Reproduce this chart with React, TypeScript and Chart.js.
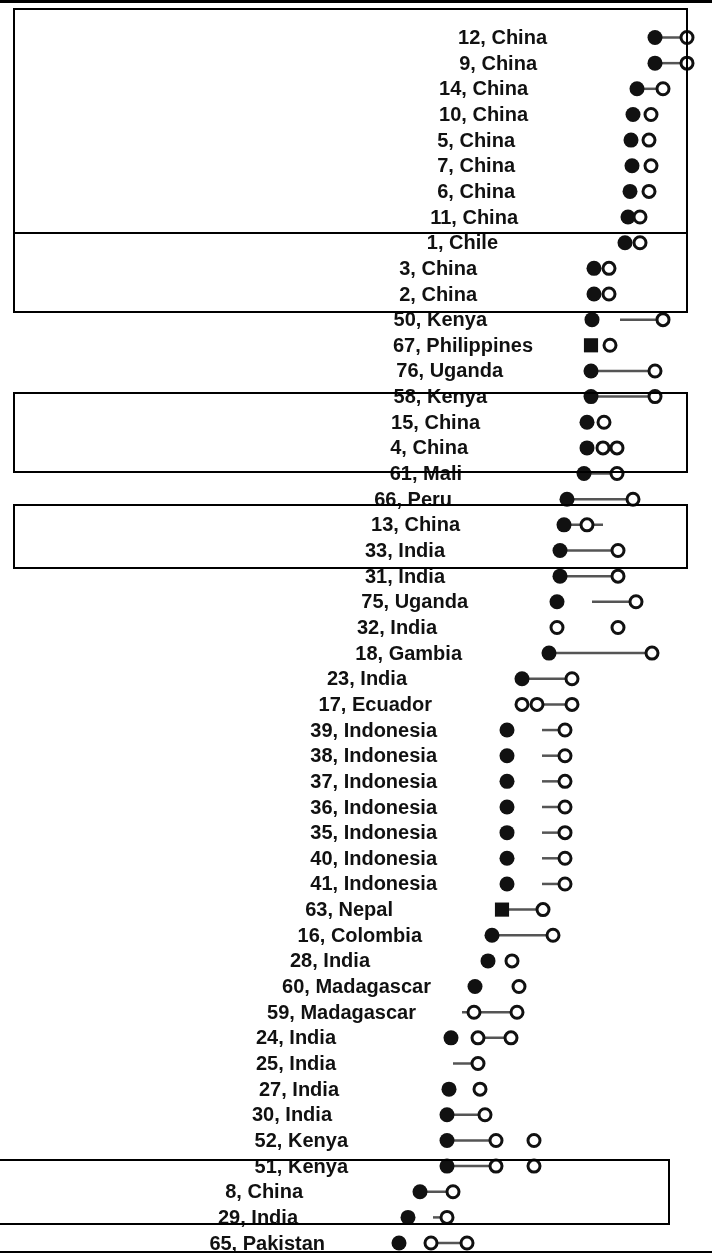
import React, { useEffect, useRef } from "react";
import { Chart, registerables } from "chart.js";

Chart.register(...registerables);

// Study rows, top to bottom
const rowLabels: string[] = [
  "12, China", "9, China", "14, China", "10, China", "5, China", "7, China",
  "6, China", "11, China", "1, Chile", "3, China", "2, China", "50, Kenya",
  "67, Philippines", "76, Uganda", "58, Kenya", "15, China", "4, China",
  "61, Mali", "66, Peru", "13, China", "33, India", "31, India", "75, Uganda",
  "32, India", "18, Gambia", "23, India", "17, Ecuador", "39, Indonesia",
  "38, Indonesia", "37, Indonesia", "36, Indonesia", "35, Indonesia",
  "40, Indonesia", "41, Indonesia", "63, Nepal", "16, Colombia", "28, India",
  "60, Madagascar", "59, Madagascar", "24, India", "25, India", "27, India",
  "30, India", "52, Kenya", "51, Kenya", "8, China", "29, India", "65, Pakistan",
];

// Where each row's label ends (value units)
const labelEnd: number[] = [
  547, 537, 528, 528, 515, 515, 515, 518, 498, 477, 477, 487, 533, 503, 487,
  480, 468, 462, 452, 460, 445, 445, 468, 437, 462, 407, 432, 437, 437, 437,
  437, 437, 437, 437, 393, 422, 370, 431, 416, 336, 336, 339, 332, 348, 348,
  303, 298, 325,
];

// Baseline value (filled marker); null where none is shown
const baseline: (number | null)[] = [
  655, 655, 637, 633, 631, 632, 630, 628, 625, 594, 594, 592, 591, 591, 591,
  587, 587, 584, 567, 564, 560, 560, 557, null, 549, 522, null, 507, 507, 507,
  507, 507, 507, 507, 502, 492, 488, 475, null, 451, null, 449, 447, 447, 447,
  420, 408, 399,
];

// Rows whose baseline marker is a square
const squareRows: number[] = [12, 34];

// Follow-up values (open markers)
const followUps: number[][] = [
  [687], [687], [663], [651], [649], [651], [649], [640], [640], [609], [609],
  [663], [610], [655], [655], [604], [603, 617], [617], [633], [587], [618],
  [618], [636], [557, 618], [652], [572], [522, 537, 572], [565], [565], [565],
  [565], [565], [565], [565], [543], [553], [512], [519], [474, 517],
  [478, 511], [478], [480], [485], [496, 534], [496, 534], [453], [447],
  [431, 467],
];

// Connecting segments [from, to]; null where the markers are not joined
const links: ([number, number] | null)[] = [
  [655, 687], [655, 687], [637, 663], null, null, null, null, null, null, null,
  null, [620, 663], null, [591, 655], [591, 655], null, null, [584, 617],
  [567, 633], [564, 603], [560, 618], [560, 618], [592, 636], null, [549, 652],
  [522, 572], [537, 572], [542, 565], [542, 565], [542, 565], [542, 565],
  [542, 565], [542, 565], [542, 565], [502, 543], [492, 553], null, null,
  [462, 517], [478, 511], [453, 478], null, [447, 485], [447, 496], [447, 496],
  [420, 453], [433, 447], [431, 467],
];

// Grouping frames: [fromValue, toValue, fromRow, toRow]
const frames: [number, number, number, number][] = [
  [14, 687, -1.11, 7.62],
  [14, 687, 7.62, 10.7],
  [14, 687, 13.86, 16.94],
  [14, 687, 18.23, 20.68],
  [-6, 669, 43.76, 46.26],
];

const X_MIN = 0;
const X_MAX = 712;
const ROW_TOP = -1.462;
const ROW_BOTTOM = 47.544;

const INK = "#111111";
const LINK = "#555555";

export default function App() {
  const canvasRef = useRef<HTMLCanvasElement>(null);

  useEffect(() => {
    document.body.style.margin = "0";
    const canvas = canvasRef.current;
    if (!canvas) return;

    const linkSets = links
      .map((seg, r) => (seg ? { seg, r } : null))
      .filter((v): v is { seg: [number, number]; r: number } => v !== null)
      .map(({ seg, r }) => ({
        label: "link " + r,
        data: [
          { x: seg[0], y: r },
          { x: seg[1], y: r },
        ],
        showLine: true,
        borderColor: LINK,
        borderWidth: 2.5,
        pointRadius: 0,
        order: 3,
      }));

    const basePoints = baseline
      .map((v, r) => (v === null ? null : { x: v, y: r }))
      .filter((p): p is { x: number; y: number } => p !== null);

    const followPoints: { x: number; y: number }[] = [];
    followUps.forEach((vals, r) => vals.forEach((v) => followPoints.push({ x: v, y: r })));

    const labelsPlugin = {
      id: "rowLabels",
      afterDatasetsDraw(chart: any) {
        const { ctx, scales } = chart;
        ctx.save();
        ctx.font = 'bold 20px "Liberation Sans", Arial, sans-serif';
        ctx.fillStyle = INK;
        ctx.textAlign = "right";
        ctx.textBaseline = "middle";
        rowLabels.forEach((txt, r) => {
          ctx.fillText(txt, scales.x.getPixelForValue(labelEnd[r]), scales.y.getPixelForValue(r) + 1);
        });
        ctx.restore();
      },
    };

    const framesPlugin = {
      id: "frames",
      afterDraw(chart: any) {
        const { ctx, scales, width, height } = chart;
        ctx.save();
        ctx.strokeStyle = "#000";
        ctx.lineWidth = 2;
        frames.forEach(([x0, x1, r0, r1]) => {
          const px0 = Math.round(scales.x.getPixelForValue(x0));
          const px1 = Math.round(scales.x.getPixelForValue(x1));
          const py0 = Math.round(scales.y.getPixelForValue(r0));
          const py1 = Math.round(scales.y.getPixelForValue(r1));
          ctx.strokeRect(px0, py0, px1 - px0, py1 - py0);
        });
        // top band and bottom rule
        ctx.fillStyle = "#000";
        ctx.fillRect(0, 0, width, 3);
        ctx.beginPath();
        ctx.moveTo(0, height - 5);
        ctx.lineTo(width, height - 5);
        ctx.stroke();
        ctx.restore();
      },
    };

    const chart = new Chart(canvas, {
      type: "scatter",
      data: {
        datasets: [
          ...linkSets,
          {
            label: "baseline",
            data: basePoints,
            backgroundColor: INK,
            borderWidth: 0,
            pointRadius: (c: any) => (squareRows.includes(c.raw?.y) ? 10 : 7.5),
            pointStyle: (c: any) => (squareRows.includes(c.raw?.y) ? "rect" : "circle"),
            order: 2,
          } as any,
          {
            label: "follow-up",
            data: followPoints,
            backgroundColor: "#ffffff",
            borderColor: INK,
            borderWidth: 3,
            pointRadius: 6,
            order: 1,
          },
        ],
      },
      options: {
        animation: false,
        responsive: false,
        devicePixelRatio: 1,
        events: [],
        layout: { padding: 0, autoPadding: false },
        plugins: { legend: { display: false }, tooltip: { enabled: false } },
        scales: {
          x: { type: "linear", display: false, min: X_MIN, max: X_MAX },
          y: { type: "linear", display: false, reverse: true, min: ROW_TOP, max: ROW_BOTTOM },
        },
      },
      plugins: [labelsPlugin, framesPlugin],
    });

    return () => chart.destroy();
  }, []);

  return (
    <div style={{ position: "relative", width: 712, height: 1257, background: "#fff" }}>
      <canvas ref={canvasRef} width={712} height={1257} style={{ display: "block" }} />
    </div>
  );
}
